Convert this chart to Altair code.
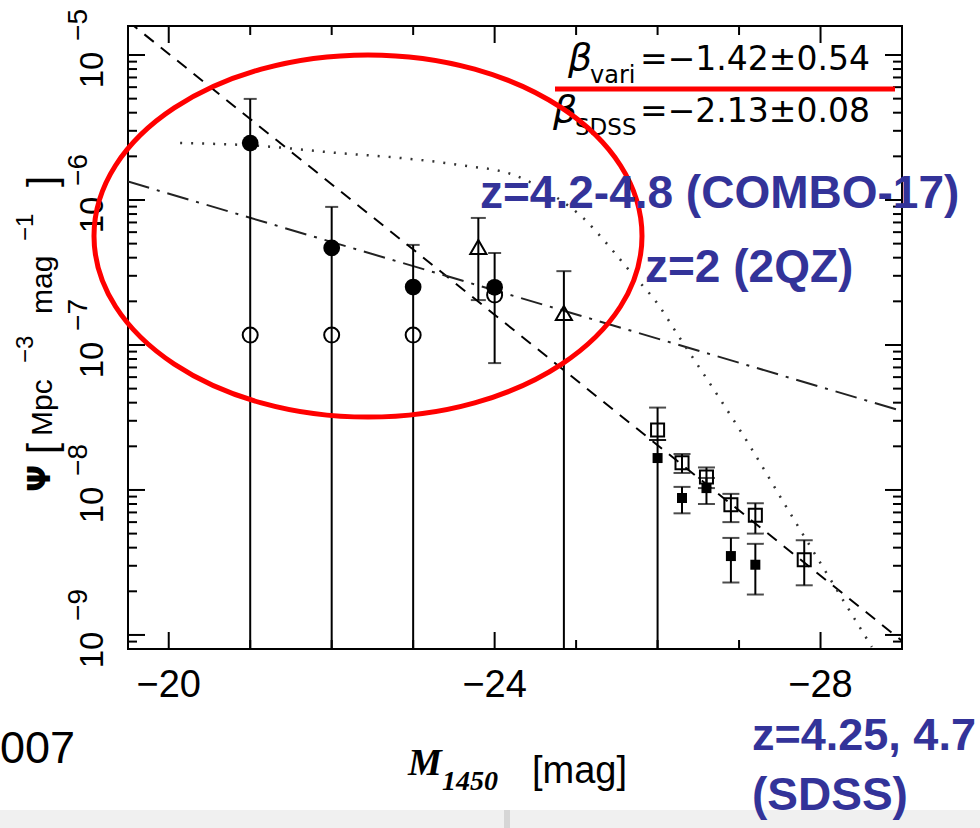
import altair as alt
import pandas as pd

W, H = 774, 623  # plot area (px)

# ---------------- data ----------------
# COMBO-17 variability-selected QSOs, z = 4.2-4.8 (filled circles)
vari_mag = [-21.0, -22.0, -23.0, -24.0]
vari_psi = [2.47e-6, 4.67e-7, 2.51e-7, 2.50e-7]
vari_hi = [4.98e-6, 8.96e-7, 4.90e-7, 4.31e-7]
vari_lo = [None, None, None, 7.5e-8]          # None: bar runs to the bottom

# COMBO-17 colour-selected QSOs (open circles)
col_mag = [-21.0, -22.0, -23.0, -24.0]
col_psi = [1.17e-7, 1.17e-7, 1.17e-7, 2.21e-7]

# COMBO-17 bright bins (open triangles)
tri_mag = [-23.8, -24.85]
tri_psi = [4.74e-7, 1.66e-7]
tri_hi = [7.52e-7, 3.23e-7]
tri_lo = [2.04e-7, None]

# SDSS z = 4.25 (open squares)
sq_mag = [-26.0, -26.3, -26.6, -26.9, -27.2, -27.8]
sq_psi = [2.59e-8, 1.54e-8, 1.23e-8, 7.9e-9, 6.7e-9, 3.3e-9]
sq_hi = [3.70e-8, 1.77e-8, 1.43e-8, 9.4e-9, 8.1e-9, 4.5e-9]
sq_lo = [2.21e-8, 1.31e-8, 1.03e-8, 6.0e-9, 5.0e-9, 2.2e-9]

# SDSS z = 4.75 (filled squares)
fsq_mag = [-26.0, -26.3, -26.6, -26.9, -27.2]
fsq_psi = [1.66e-8, 8.8e-9, 1.03e-8, 3.5e-9, 3.05e-9]
fsq_hi = [2.21e-8, 1.05e-8, 1.21e-8, 4.67e-9, 4.25e-9]
fsq_lo = [None, 6.9e-9, 8.0e-9, 2.3e-9, 1.9e-9]

# power-law fits: beta_SDSS (dashed) and beta_vari (dash-dot)
sdss_fit_mag = [-19.5, -29.0]
sdss_fit_psi = [1.71e-5, 9.1e-10]
vari_fit_mag = [-19.5, -29.0]
vari_fit_psi = [1.34e-6, 3.5e-8]

# 2QZ luminosity function at z = 2 (dotted)
qz_mag = [-20.14, -21.12, -22.07, -22.84, -23.58, -24.23, -24.75, -25.10,
          -25.39, -25.67, -26.01, -26.25, -26.75, -27.11, -27.58, -28.05, -28.63]
qz_psi = [2.47e-6, 2.36e-6, 2.11e-6, 1.95e-6, 1.74e-6, 1.49e-6, 1.05e-6, 7.40e-7,
          4.90e-7, 3.18e-7, 1.89e-7, 1.17e-7, 4.38e-8, 2.11e-8, 7.64e-9, 2.81e-9, 8.26e-10]

# axis ticks
x_major = [-20, -24, -28]
x_minor = [-21, -22, -23, -25, -26, -27]
y_exponents = [-9, -8, -7, -6, -5]
y_mantissas = [2, 3, 4, 5, 6, 7, 8, 9]
y_minor_decades = [-10, -9, -8, -7, -6]

# ---------------- scales ----------------
x_scale = alt.Scale(domain=[-29.0, -19.5], reverse=True, nice=False, zero=False)
y_scale = alt.Scale(type="log", domain=[8.0e-10, 1.585e-5], nice=False)


def X(field="mag"):
    return alt.X(f"{field}:Q", scale=x_scale, axis=None)


def Y(field="psi"):
    return alt.Y(f"{field}:Q", scale=y_scale, axis=None)


def minus(v):
    return ("\u2212" if v < 0 else "") + str(abs(v))


HERSHEY = "Liberation Sans"
BLUE = "#333399"


def label(text, x, y, size, font=HERSHEY, color="black", align="left",
          angle=0, weight="normal", style="normal"):
    return alt.Chart(pd.DataFrame({"t": [text]})).mark_text(
        align=align, baseline="alphabetic", fontSize=size, font=font,
        color=color, angle=angle, fontWeight=weight, fontStyle=style,
    ).encode(x=alt.value(x), y=alt.value(y), text="t:N")


def error_layers(mag, hi, lo, cap):
    df = pd.DataFrame({"mag": mag, "hi": hi, "lo": lo})
    base = alt.Chart(df)
    rule = dict(color="black", strokeWidth=2)
    tick = dict(orient="horizontal", size=cap, thickness=2, color="black")
    return [
        base.transform_filter("isValid(datum.lo)").mark_rule(**rule)
        .encode(x=X(), y=Y("hi"), y2="lo:Q"),
        base.transform_filter("!isValid(datum.lo)").mark_rule(**rule)
        .encode(x=X(), y=Y("hi"), y2=alt.value(H)),
        base.mark_tick(**tick).encode(x=X(), y=Y("hi")),
        base.transform_filter("isValid(datum.lo)").mark_tick(**tick)
        .encode(x=X(), y=Y("lo")),
    ]


layers = []

# faint strip along the bottom edge
layers.append(alt.Chart(pd.DataFrame({"t": [0]})).mark_rect(color="#f0f0f0").encode(
    x=alt.value(-128), x2=alt.value(852), y=alt.value(784), y2=alt.value(802)))
layers.append(alt.Chart(pd.DataFrame({"t": [0]})).mark_rect(color="#d6d6d6").encode(
    x=alt.value(376), x2=alt.value(382), y=alt.value(784), y2=alt.value(802)))

# model curves
layers.append(alt.Chart(pd.DataFrame({"mag": sdss_fit_mag, "psi": sdss_fit_psi}))
              .mark_line(color="black", strokeWidth=2, strokeDash=[12, 9], clip=True)
              .encode(x=X(), y=Y()))
layers.append(alt.Chart(pd.DataFrame({"mag": vari_fit_mag, "psi": vari_fit_psi}))
              .mark_line(color="#222222", strokeWidth=2, strokeDash=[22, 8, 3, 8], clip=True)
              .encode(x=X(), y=Y()))
layers.append(alt.Chart(pd.DataFrame({"mag": qz_mag, "psi": qz_psi}))
              .mark_line(color="#333333", strokeWidth=2.5, strokeDash=[2, 9],
                         interpolate="monotone", clip=True)
              .encode(x=X(), y=Y()))

# error bars
layers += error_layers(vari_mag, vari_hi, vari_lo, 13)
layers += error_layers(tri_mag, tri_hi, tri_lo, 15)
layers += error_layers(sq_mag, sq_hi, sq_lo, 17)
layers += error_layers(fsq_mag, fsq_hi, fsq_lo, 17)

# symbols
layers.append(alt.Chart(pd.DataFrame({"mag": col_mag, "psi": col_psi}))
              .mark_point(shape="circle", filled=False, size=225, strokeWidth=2,
                          color="black", opacity=1).encode(x=X(), y=Y()))
layers.append(alt.Chart(pd.DataFrame({"mag": vari_mag, "psi": vari_psi}))
              .mark_point(shape="circle", filled=True, size=280, color="black",
                          opacity=1).encode(x=X(), y=Y()))
layers.append(alt.Chart(pd.DataFrame({"mag": tri_mag, "psi": tri_psi}))
              .mark_point(shape="triangle-up", filled=False, size=260, strokeWidth=2,
                          color="black", opacity=1).encode(x=X(), y=Y()))
layers.append(alt.Chart(pd.DataFrame({"mag": sq_mag, "psi": sq_psi}))
              .mark_point(shape="square", filled=False, size=170, strokeWidth=2,
                          color="black", opacity=1).encode(x=X(), y=Y()))
layers.append(alt.Chart(pd.DataFrame({"mag": fsq_mag, "psi": fsq_psi}))
              .mark_point(shape="square", filled=True, size=100, color="black",
                          opacity=1).encode(x=X(), y=Y()))

# inward ticks on all four sides
xt = pd.DataFrame({"mag": x_major + x_minor,
                   "major": [True] * len(x_major) + [False] * len(x_minor)})
yt = pd.DataFrame({"psi": [10.0 ** e for e in y_exponents] +
                   [m * 10.0 ** d for d in y_minor_decades for m in y_mantissas],
                   "major": [True] * len(y_exponents) +
                   [False] * (len(y_minor_decades) * len(y_mantissas))})
yt = yt[(yt.psi >= 8.0e-10) & (yt.psi <= 1.585e-5)]
for flag, length in ((True, 17), (False, 9)):
    sel = "datum.major" if flag else "!datum.major"
    tr = dict(color="black", strokeWidth=2)
    layers.append(alt.Chart(xt).transform_filter(sel).mark_rule(**tr).encode(
        x=X(), y=alt.value(H), y2=alt.value(H - length)))
    layers.append(alt.Chart(xt).transform_filter(sel).mark_rule(**tr).encode(
        x=X(), y=alt.value(0), y2=alt.value(length)))
    layers.append(alt.Chart(yt).transform_filter(sel).mark_rule(**tr).encode(
        y=Y(), x=alt.value(0), x2=alt.value(length)))
    layers.append(alt.Chart(yt).transform_filter(sel).mark_rule(**tr).encode(
        y=Y(), x=alt.value(W), x2=alt.value(W - length)))

# tick labels
xl = pd.DataFrame({"mag": x_major, "t": [minus(v) for v in x_major]})
layers.append(alt.Chart(xl).mark_text(font=HERSHEY, fontSize=38, baseline="alphabetic",
                                      align="center", color="black")
              .encode(x=X(), y=alt.value(671), text="t:N"))
yl = pd.DataFrame({"psi": [10.0 ** e for e in y_exponents],
                   "base": ["10"] * len(y_exponents),
                   "exp": [minus(e) for e in y_exponents]})
layers.append(alt.Chart(yl).mark_text(font=HERSHEY, fontSize=33, angle=270, dx=-15,
                                      align="center", baseline="alphabetic", color="black")
              .encode(y=Y(), x=alt.value(-25), text="base:N"))
layers.append(alt.Chart(yl).mark_text(font=HERSHEY, fontSize=28, angle=270, dx=30,
                                      align="center", baseline="alphabetic", color="black")
              .encode(y=Y(), x=alt.value(-41), text="exp:N"))

# axis titles
layers.append(label("\u03a8", -78, 466, 32, font="DejaVu Sans", angle=270, weight="bold"))
layers.append(label("[", -72, 428, 40, angle=270))
layers.append(label("Mpc", -76, 410, 30, angle=270))
layers.append(label("\u22123", -95, 337, 24, angle=270))
layers.append(label("mag", -76, 288, 30, angle=270))
layers.append(label("\u22121", -95, 215, 24, angle=270))
layers.append(label("]", -72, 161, 40, angle=270))

layers.append(label("M", 280, 749, 38, font="Liberation Serif", weight="bold", style="italic"))
layers.append(label("1450", 314, 764, 28, font="Liberation Serif", weight="bold", style="italic"))
layers.append(label("[mag]", 404, 757, 38))

# slope annotations
layers.append(label("\u03b2", 440, 44, 38, font="DejaVu Sans", style="italic"))
layers.append(label("vari", 462, 57, 24, font="DejaVu Sans"))
layers.append(label("=\u22121.42\u00b10.54", 512, 44, 33, font="DejaVu Sans"))
layers.append(label("\u03b2", 425, 96, 38, font="DejaVu Sans", style="italic"))
layers.append(label("SDSS", 447, 109, 23, font="DejaVu Sans"))
layers.append(label("=\u22122.13\u00b10.08", 512, 96, 33, font="DejaVu Sans"))

# red highlights
layers.append(alt.Chart(pd.DataFrame({"t": [0]})).mark_rule(color="#ff0000", strokeWidth=5)
              .encode(x=alt.value(427), x2=alt.value(767), y=alt.value(63)))
ry = 0.661
k = 0.5523
ellipse = (f"M 1 0 C 1 {k*ry:.4f} {k} {ry} 0 {ry} "
           f"C {-k} {ry} -1 {k*ry:.4f} -1 0 "
           f"C -1 {-k*ry:.4f} {-k} {-ry} 0 {-ry} "
           f"C {k} {-ry} 1 {-k*ry:.4f} 1 0 Z")
layers.append(alt.Chart(pd.DataFrame({"t": [0]}))
              .mark_point(shape=ellipse, size=548 ** 2, filled=False, strokeWidth=5,
                          color="#ff0000", opacity=1)
              .encode(x=alt.value(240), y=alt.value(210)))

# slide annotations
BOLD = "Liberation Sans"
layers.append(label("z=4.2-4.8 (COMBO-17)", 352, 182, 46, font=BOLD, color=BLUE, weight="bold"))
layers.append(label("z=2 (2QZ)", 517, 256, 46, font=BOLD, color=BLUE, weight="bold"))
layers.append(label("z=4.25, 4.7", 624, 724, 45, font=BOLD, color=BLUE, weight="bold"))
layers.append(label("(SDSS)", 624, 784, 46, font=BOLD, color=BLUE, weight="bold"))
layers.append(label("007", -53, 737, 45, align="right"))

chart = alt.layer(*layers).properties(
    width=W, height=H, autosize="none",
    padding={"left": 128, "top": 26, "right": 78, "bottom": 179},
    background="white",
).configure_view(stroke="black", strokeWidth=2)

chart.save("out.html", embed_options={"renderer": "svg", "actions": False})
